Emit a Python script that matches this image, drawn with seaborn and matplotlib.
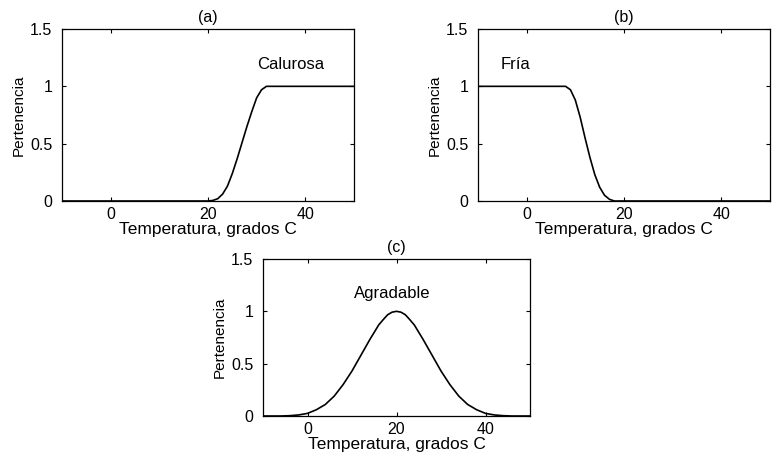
import matplotlib
matplotlib.use("Agg")
import matplotlib.pyplot as plt
import seaborn as sns
import pandas as pd

# Temperatures (degrees C) and membership grades for each fuzzy set
temp_calurosa = [-10, 0, 10, 20, 21, 22, 23, 24, 25, 26, 27, 28, 29, 30, 31, 32, 40, 50]
mu_calurosa = [0, 0, 0, 0, 0.005, 0.02, 0.06, 0.13, 0.24, 0.37, 0.51, 0.65, 0.78, 0.90, 0.97, 1.0, 1.0, 1.0]

temp_fria = [-10, 0, 8, 9, 10, 11, 12, 13, 14, 15, 16, 17, 18, 20, 30, 40, 50]
mu_fria = [1.0, 1.0, 1.0, 0.97, 0.88, 0.73, 0.55, 0.38, 0.23, 0.12, 0.05, 0.015, 0, 0, 0, 0, 0]

temp_agradable = [-10, -8, -6, -4, -2, 0, 2, 4, 6, 8, 10, 12, 14, 16, 17, 18, 19, 20,
                  21, 22, 23, 24, 26, 28, 30, 32, 34, 36, 38, 40, 42, 44, 46, 48, 50]
mu_agradable = [0, 0, 0, 0.003, 0.01, 0.025, 0.06, 0.11, 0.19, 0.30, 0.43, 0.58, 0.73,
                0.87, 0.92, 0.967, 0.992, 1.0, 0.992, 0.967, 0.92, 0.87, 0.73, 0.58,
                0.43, 0.30, 0.19, 0.11, 0.06, 0.025, 0.01, 0.003, 0, 0, 0]

panel_titles = ["(a)", "(b)", "(c)"]
set_names = ["Calurosa", "Fría", "Agradable"]
x_ticks = [0, 20, 40]
y_ticks = [0, 0.5, 1, 1.5]
y_tick_labels = ["0", "0.5", "1", "1.5"]

sns.set_style("ticks")
plt.rcParams["font.family"] = ["Liberation Sans", "DejaVu Sans"]
plt.rcParams["text.color"] = "black"
plt.rcParams["axes.labelcolor"] = "black"

W, H = 772, 454
fig = plt.figure(figsize=(W / 100, H / 100), dpi=100)


def make_axes(left, right, top, bottom):
    return fig.add_axes([left / W, 1 - bottom / H, (right - left) / W, (bottom - top) / H])


ax_a = make_axes(62, 354, 29, 201)
ax_b = make_axes(478, 770, 29, 201)
ax_c = make_axes(263, 530, 259, 416)

series = [
    (ax_a, temp_calurosa, mu_calurosa, (37, 1.19)),
    (ax_b, temp_fria, mu_fria, (-2.2, 1.19)),
    (ax_c, temp_agradable, mu_agradable, (19, 1.17)),
]

for (ax, t, mu, label_pos), title, name in zip(series, panel_titles, set_names):
    df = pd.DataFrame({"Temperatura": t, "Pertenencia": mu})
    sns.lineplot(data=df, x="Temperatura", y="Pertenencia", ax=ax,
                 color="black", linewidth=1.2)
    ax.set_xlim(-10, 50)
    ax.set_ylim(0, 1.5)
    ax.set_xticks(x_ticks)
    ax.set_yticks(y_ticks)
    ax.set_yticklabels(y_tick_labels)
    ax.tick_params(direction="in", length=3, width=0.8, top=True, right=True,
                   labelsize=11.5, colors="black")
    ax.tick_params(axis="x", pad=4)
    ax.tick_params(axis="y", pad=7)
    for sp in ax.spines.values():
        sp.set_visible(True)
        sp.set_linewidth(0.9)
        sp.set_color("black")
    ax.set_xlabel("Temperatura, grados C", fontsize=12.5, labelpad=0, color="black")
    ax.set_ylabel("Pertenencia", fontsize=11, labelpad=3, color="black")
    ax.set_title(title, fontsize=11.5, pad=5, color="black")
    ax.text(label_pos[0], label_pos[1], name, ha="center", va="center",
            fontsize=12, color="black")

fig.savefig("out.png", dpi=100, facecolor="white")
